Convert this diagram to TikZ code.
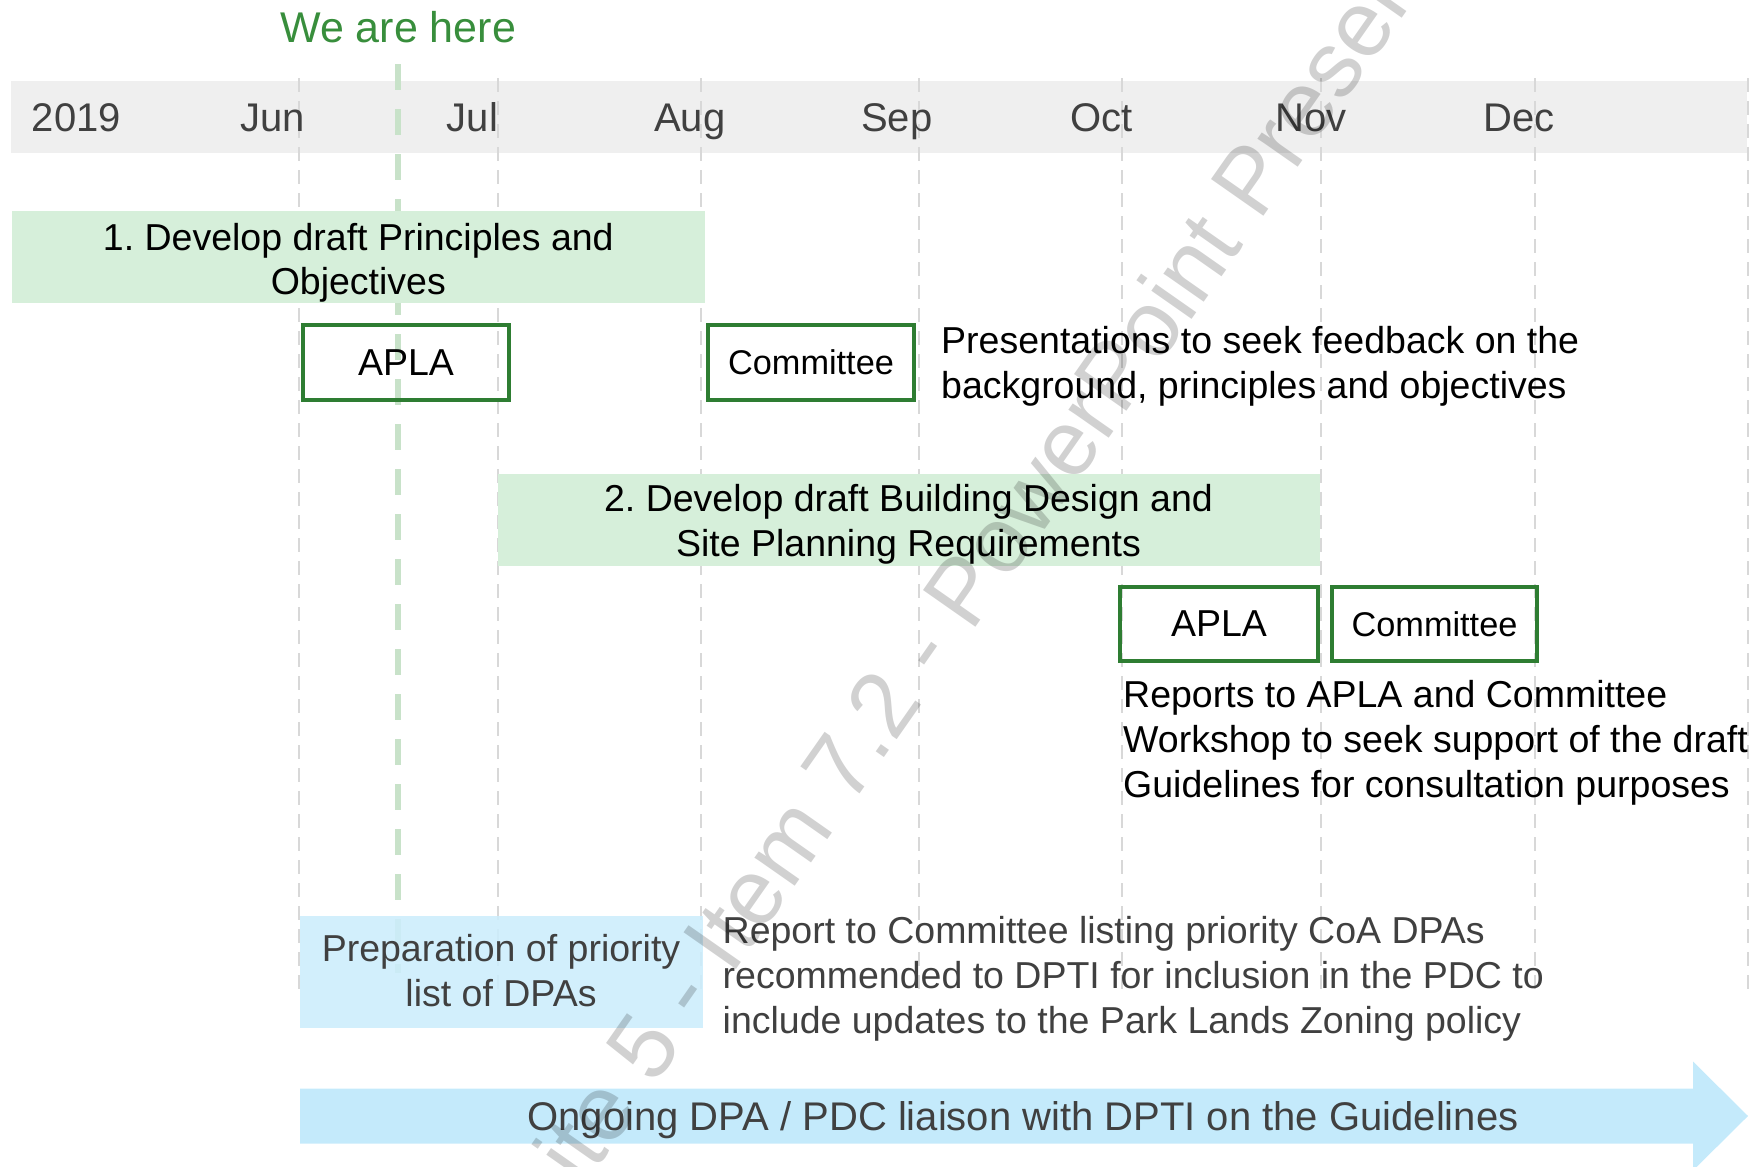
\documentclass[tikz,border=0pt]{standalone}
\usepackage{fontspec}
\setmainfont{Liberation Sans}
\frenchspacing
\definecolor{bandgray}{RGB}{239,239,239}
\definecolor{gridgray}{RGB}{216,216,216}
\definecolor{herelight}{RGB}{200,226,201}
\definecolor{heretext}{RGB}{56,142,60}
\definecolor{boxgreen}{RGB}{46,125,50}
\definecolor{taskgreen}{RGB}{214,239,218}
\definecolor{taskblue}{RGB}{204,237,252}
\definecolor{arrowblue}{RGB}{196,234,251}
\definecolor{darktext}{RGB}{64,64,64}
\begin{document}
\begin{tikzpicture}[x=1pt,y=-1pt,
  month/.style={font=\fontsize{40}{48}\selectfont, text=darktext, anchor=base west, inner sep=0pt},
  body/.style={font=\fontsize{37.5}{45}\selectfont, inner sep=0pt},
  bodyleft/.style={body, anchor=base west},
  bodymid/.style={body, anchor=base},
  gridline/.style={gridgray, line width=2.5pt, dash pattern=on 14pt off 9pt},
  hereline/.style={herelight, line width=6.5pt, dash pattern=on 26pt off 19pt},
  taskbox/.style={fill=taskgreen, inner sep=0pt},
  meetbox/.style={draw=boxgreen, line width=4pt, inner sep=0pt, font=\fontsize{37.5}{45}\selectfont},
  meetsmall/.style={meetbox, font=\fontsize{34.3}{41}\selectfont},
]
\useasboundingbox (0,0) rectangle (1756,1167);
% header band
\fill[bandgray] (11,81) rectangle (1747,152.5);
% month grid lines
\foreach \gx in {299,498,701,919,1122,1321,1535,1748}
  \draw[gridline] (\gx,78) -- (\gx,990);
% we are here line
\draw[hereline] (398,64) -- (398,973);
% month labels
\node[month] (m2019) at (31.6,131.7) {2019};
\node[month] (mjun) at (240,131.7) {Jun};
\node[month] (mjul) at (446.6,131.7) {Jul};
\node[month] (maug) at (654,131.7) {Aug};
\node[month] (msep) at (861,131.7) {Sep};
\node[month] (moct) at (1070,131.7) {Oct};
\node[month] (mnov) at (1275.5,131.7) {Nov};
\node[month] (mdec) at (1483,131.7) {Dec};
\node[font=\fontsize{43}{50}\selectfont, text=heretext, anchor=base west, inner sep=0pt] (here) at (280,42.7) {We are here};
% task 1
\node[taskbox, minimum width=693.5pt, minimum height=91.5pt] (task1) at (358.25,256.75) {};
\node[bodymid] (task1a) at (358.3,250) {1. Develop draft Principles and};
\node[bodymid] (task1b) at (358.3,294.5) {Objectives};
% meetings 1
\node[meetbox, minimum width=206pt, minimum height=75pt] (apla1) at (406,362.5) {APLA};
\node[meetsmall, minimum width=206pt, minimum height=75pt] (comm1) at (811,362.5) {Committee};
\node[bodyleft] (pres1) at (941,353) {Presentations to seek feedback on the};
\node[bodyleft] (pres2) at (941,398) {background, principles and objectives};
% task 2
\node[taskbox, minimum width=822pt, minimum height=92pt] (task2) at (909,520) {};
\node[bodymid] (task2a) at (908.5,511.7) {2. Develop draft Building Design and};
\node[bodymid] (task2b) at (908.5,556.7) {Site Planning Requirements};
% meetings 2
\node[meetbox, minimum width=198pt, minimum height=74pt] (apla2) at (1219,624) {APLA};
\node[meetsmall, minimum width=205pt, minimum height=74pt] (comm2) at (1434.5,624) {Committee};
\node[bodyleft] (rep1) at (1123,707.5) {Reports to APLA and Committee};
\node[bodyleft] (rep2) at (1123,752.5) {Workshop to seek support of the draft};
\node[bodyleft] (rep3) at (1123,797.5) {Guidelines for consultation purposes};
% priority list
\node[fill=taskblue, fill opacity=0.88, inner sep=0pt, minimum width=402.5pt, minimum height=112pt] (prep) at (501.25,972) {};
\node[bodymid, text=darktext] (prep1) at (501,961.7) {Preparation of priority};
\node[bodymid, text=darktext] (prep2) at (501,1006.7) {list of DPAs};
\node[bodyleft, text=darktext] (low1) at (722.5,943.3) {Report to Committee listing priority CoA DPAs};
\node[bodyleft, text=darktext] (low2) at (722.5,988.3) {recommended to DPTI for inclusion in the PDC to};
\node[bodyleft, text=darktext] (low3) at (722.5,1033.3) {include updates to the Park Lands Zoning policy};
% ongoing arrow
\fill[arrowblue] (300,1088.5) -- (1693,1088.5) -- (1693,1061.5) -- (1748,1116)
  -- (1693,1170.5) -- (1693,1143.5) -- (300,1143.5) -- cycle;
\node[font=\fontsize{40}{48}\selectfont, inner sep=0pt, anchor=base, text=darktext] (ongoing) at (1023,1130) {Ongoing DPA / PDC liaison with DPTI on the Guidelines};
% watermark
\node[rotate=55, font=\fontsize{93}{100}\selectfont, text=black, text opacity=0.18, inner sep=0pt] (wm) at (1044,472.5) {ite 5 - Item 7.2 - PowerPoint Presentation};
\end{tikzpicture}
\end{document}
